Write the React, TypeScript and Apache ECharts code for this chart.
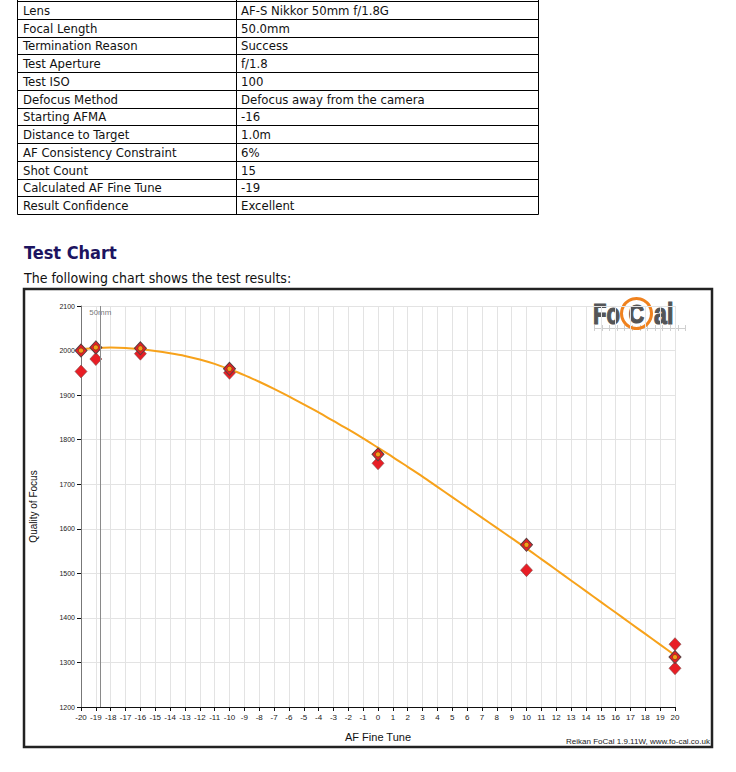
import React, { useEffect, useRef } from "react";
import * as echarts from "echarts";

// ---- Data ----
const TABLE_LABELS = [
  "Lens",
  "Focal Length",
  "Termination Reason",
  "Test Aperture",
  "Test ISO",
  "Defocus Method",
  "Starting AFMA",
  "Distance to Target",
  "AF Consistency Constraint",
  "Shot Count",
  "Calculated AF Fine Tune",
  "Result Confidence",
];
const TABLE_VALUES = [
  "AF-S Nikkor 50mm f/1.8G",
  "50.0mm",
  "Success",
  "f/1.8",
  "100",
  "Defocus away from the camera",
  "-16",
  "1.0m",
  "6%",
  "15",
  "-19",
  "Excellent",
];

// Best shot at each tested AF fine tune position
const BEST_X = [-20, -19, -16, -10, 0, 10, 20];
const BEST_Q = [2000, 2007, 2005, 1959, 1767, 1564, 1312];
// Remaining shots
const OTHER_X = [-20, -19, -16, -10, 0, 10, 20, 20];
const OTHER_Q = [1953, 1981, 1993, 1950, 1747, 1507, 1341, 1287];

// Fitted curve
const FIT_X = [
  -20, -19, -18, -17, -16, -15, -14, -13, -12, -11, -10, -9, -8, -7, -6, -5, -4, -3, -2, -1, 0,
  1, 2, 3, 4, 5, 6, 7, 8, 9, 10, 11, 12, 13, 14, 15, 16, 17, 18, 19, 20,
];
const FIT_Q = [
  2003, 2006, 2007, 2006, 2003, 1999, 1994, 1988, 1980, 1970, 1958, 1945, 1930, 1914, 1897,
  1879, 1861, 1842, 1823, 1803, 1782, 1761, 1739, 1717, 1694, 1671, 1648, 1625, 1602, 1579,
  1556, 1532, 1508, 1484, 1460, 1436, 1412, 1388, 1364, 1340, 1316,
];

const OPTIMUM_X = -18.7;
const OPTIMUM_LABEL = "50mm";

const X_MIN = -20;
const X_MAX = 20;
const Y_MIN = 1200;
const Y_MAX = 2100;

const DOC_FONT = "'DejaVu Sans Condensed', 'DejaVu Sans', sans-serif";
const CHART_FONT = "'Liberation Sans', Arial, sans-serif";

function buildTableGraphics(): any[] {
  const els: any[] = [];
  const left = 17.5;
  const mid = 236.5;
  const right = 538.5;
  const top = 1;
  const rowH = 17.75;
  const n = TABLE_LABELS.length;
  const bottom = top + rowH * n;
  [left, mid, right].forEach((x) => {
    els.push({
      type: "line",
      shape: { x1: x, y1: 0, x2: x, y2: Math.round(bottom) + 0.5 },
      style: { stroke: "#000", lineWidth: 1 },
    });
  });
  for (let i = 0; i <= n; i++) {
    const y = Math.round(top + rowH * i) + 0.5;
    els.push({
      type: "line",
      shape: { x1: left, y1: y, x2: right, y2: y },
      style: { stroke: "#000", lineWidth: 1 },
    });
  }
  for (let i = 0; i < n; i++) {
    const cy = top + rowH * i + rowH / 2 + 0.5;
    els.push({
      type: "text",
      style: {
        text: TABLE_LABELS[i],
        x: 23,
        y: cy,
        verticalAlign: "middle",
        align: "left",
        fontFamily: DOC_FONT,
        fontSize: 13,
        fill: "#111",
      },
    });
    els.push({
      type: "text",
      style: {
        text: TABLE_VALUES[i],
        x: 241,
        y: cy,
        verticalAlign: "middle",
        align: "left",
        fontFamily: DOC_FONT,
        fontSize: 13,
        fill: "#111",
      },
    });
  }
  return els;
}

function buildLogo(): any[] {
  const els: any[] = [];
  const grey = "#545557";
  els.push({
    type: "line",
    shape: { x1: 594, y1: 328.5, x2: 686, y2: 328.5 },
    style: { stroke: "#cfcfcf", lineWidth: 1 },
  });
  for (let i = 0; i <= 12; i++) {
    const x = Math.round(594 + i * 7.6) + 0.5;
    els.push({
      type: "line",
      shape: { x1: x, y1: 325, x2: x, y2: 331 },
      style: { stroke: "#cfcfcf", lineWidth: 1 },
    });
  }
  const letter = (text: string, x: number, sx: number, size: number, align: string) => ({
    type: "text",
    x,
    y: 314,
    scaleX: sx,
    style: {
      text,
      x: 0,
      y: 0,
      align,
      verticalAlign: "middle",
      fontFamily: CHART_FONT,
      fontWeight: "bold",
      fontSize: size,
      fill: grey,
      stroke: grey,
      lineWidth: 1.2,
    },
  });
  els.push(letter("Fo", 593, 0.76, 29, "left"));
  els.push(letter("C", 636.5, 0.85, 25, "center"));
  els.push({
    type: "ring",
    shape: { cx: 636.5, cy: 313.5, r: 16.5, r0: 13.5 },
    style: { fill: "#f0821e" },
  });
  els.push(letter("al", 654, 0.8, 29, "left"));
  return els;
}

export default function App() {
  const ref = useRef<HTMLDivElement>(null);

  useEffect(() => {
    if (!ref.current) return;
    const chart = echarts.init(ref.current, undefined, { renderer: "svg" });

    const fitData = FIT_X.map((x, i) => [x, FIT_Q[i]]);
    const bestData = BEST_X.map((x, i) => [x, BEST_Q[i]]);
    const otherData = OTHER_X.map((x, i) => [x, OTHER_Q[i]]);

    const option: any = {
      animation: false,
      backgroundColor: "#fff",
      tooltip: { show: false },
      grid: { left: 81, right: 61, top: 306, bottom: 65, containLabel: false },
      xAxis: {
        type: "value",
        min: X_MIN,
        max: X_MAX,
        interval: 1,
        name: "AF Fine Tune",
        nameLocation: "middle",
        nameGap: 24,
        nameTextStyle: { fontFamily: CHART_FONT, fontSize: 11, color: "#111" },
        axisLine: { show: true, onZero: false, lineStyle: { color: "#111", width: 1 } },
        axisTick: { show: true, length: 4, lineStyle: { color: "#111" } },
        axisLabel: {
          fontFamily: CHART_FONT,
          fontSize: 8,
          color: "#222",
          margin: 6,
          showMinLabel: true,
          showMaxLabel: true,
          hideOverlap: false,
          formatter: (v: number) => String(v),
        },
        splitLine: { show: true, lineStyle: { color: "#e3e3e3", width: 1 } },
      },
      yAxis: {
        type: "value",
        min: Y_MIN,
        max: Y_MAX,
        interval: 100,
        name: "Quality of Focus",
        nameLocation: "middle",
        nameGap: 43,
        nameRotate: 90,
        nameTextStyle: { fontFamily: CHART_FONT, fontSize: 10, color: "#111" },
        axisLine: { show: true, onZero: false, lineStyle: { color: "#777", width: 1 } },
        axisTick: { show: true, length: 4, lineStyle: { color: "#111" } },
        axisLabel: {
          fontFamily: CHART_FONT,
          fontSize: 7,
          color: "#222",
          margin: 6,
          formatter: (v: number) => String(v),
        },
        splitLine: { show: true, lineStyle: { color: "#e3e3e3", width: 1 } },
      },
      graphic: [
        ...buildTableGraphics(),
        {
          type: "text",
          style: {
            text: "Test Chart",
            x: 24,
            y: 252,
            align: "left",
            verticalAlign: "middle",
            fontFamily: DOC_FONT,
            fontWeight: "bold",
            fontSize: 18,
            fill: "#1c1460",
          },
        },
        {
          type: "text",
          style: {
            text: "The following chart shows the test results:",
            x: 24,
            y: 278,
            align: "left",
            verticalAlign: "middle",
            fontFamily: DOC_FONT,
            fontSize: 14,
            fill: "#111",
          },
        },
        {
          type: "rect",
          z: -1,
          shape: { x: 24, y: 289, width: 688, height: 458 },
          style: { fill: "none", stroke: "#222", lineWidth: 2.5 },
        },
        ...buildLogo(),
        {
          type: "text",
          style: {
            text: "Reikan FoCal 1.9.11W, www.fo-cal.co.uk",
            x: 710,
            y: 741,
            align: "right",
            verticalAlign: "middle",
            fontFamily: CHART_FONT,
            fontSize: 8,
            fill: "#222",
          },
        },
      ],
      series: [
        {
          name: "optimum",
          type: "scatter",
          data: [[OPTIMUM_X, Y_MAX]],
          symbolSize: 0,
          silent: true,
          z: 1,
          label: {
            show: true,
            position: "bottom",
            distance: 2,
            formatter: OPTIMUM_LABEL,
            fontFamily: CHART_FONT,
            fontSize: 8,
            color: "#555",
          },
          markLine: {
            silent: true,
            symbol: "none",
            label: { show: false },
            lineStyle: { color: "#8a8a8a", width: 1, type: "solid" },
            data: [{ xAxis: OPTIMUM_X }],
          },
        },
        {
          name: "fit",
          type: "line",
          data: fitData,
          smooth: 0.3,
          showSymbol: false,
          symbol: "none",
          lineStyle: { color: "#f7a21b", width: 2 },
          z: 2,
        },
        {
          name: "shots",
          type: "scatter",
          data: otherData,
          symbol: "diamond",
          symbolSize: [12, 13],
          itemStyle: { color: "#e81e25", borderColor: "#7a4a4a", borderWidth: 0.6, opacity: 1 },
          z: 3,
        },
        {
          name: "best",
          type: "scatter",
          data: bestData,
          symbol: "diamond",
          symbolSize: [12, 13],
          itemStyle: { color: "#e81e25", borderColor: "#5a4040", borderWidth: 1, opacity: 1 },
          z: 4,
        },
        {
          name: "bestDot",
          type: "scatter",
          data: bestData,
          symbol: "circle",
          symbolSize: 5,
          itemStyle: { color: "#f5a01b", borderColor: "#6a3a10", borderWidth: 0.6, opacity: 1 },
          z: 5,
        },
      ],
    };

    chart.setOption(option);
    return () => chart.dispose();
  }, []);

  return (
    <div
      ref={ref}
      style={{ position: "absolute", left: 0, top: 0, width: 736, height: 772 }}
    />
  );
}
